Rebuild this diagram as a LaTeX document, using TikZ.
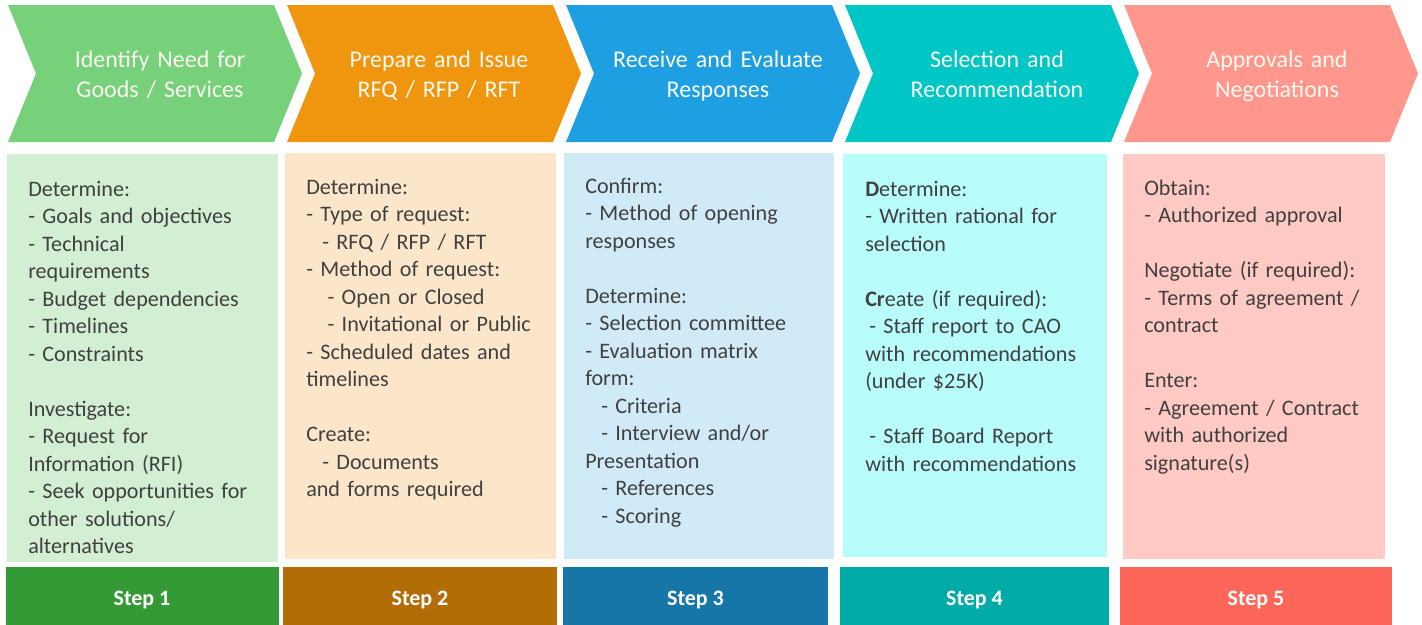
\documentclass[tikz,border=0pt]{standalone}
\usepackage{fontspec}
\setmainfont{Carlito}
\definecolor{chevA}{RGB}{118,209,122}
\definecolor{chevB}{RGB}{240,149,14}
\definecolor{chevC}{RGB}{30,159,225}
\definecolor{chevD}{RGB}{0,198,198}
\definecolor{chevE}{RGB}{255,151,141}
\definecolor{boxA}{RGB}{211,239,211}
\definecolor{boxB}{RGB}{252,230,201}
\definecolor{boxC}{RGB}{209,234,247}
\definecolor{boxD}{RGB}{184,252,252}
\definecolor{boxE}{RGB}{255,201,196}
\definecolor{barA}{RGB}{51,154,53}
\definecolor{barB}{RGB}{179,109,6}
\definecolor{barC}{RGB}{21,118,167}
\definecolor{barD}{RGB}{0,170,167}
\definecolor{barE}{RGB}{255,102,90}
\definecolor{titlewhite}{RGB}{250,250,240}
\definecolor{bodygray}{RGB}{64,64,64}
% chevron with its left edge at x=#1, filled with colour #2
\newcommand{\chevronshape}[2]{%
  \fill[#2] (#1,5) -- ({#1+266},5) -- ({#1+294},73.5) -- ({#1+266},142)
    -- (#1,142) -- ({#1+28},73.5) -- cycle;}
\newcommand{\gap}{\\[20.6pt]}
\newcommand{\ind}[1]{\hspace*{#1pt}}
\begin{document}
\begin{tikzpicture}[x=0.75pt,y=-0.75pt,
  title/.style={text=titlewhite, font=\fontsize{18}{22.5}\selectfont,
    align=center, text width=200pt, anchor=base, inner sep=0pt},
  body/.style={text=bodygray, font=\fontsize{16.6}{20.6}\selectfont,
    align=left, text width=205pt, anchor=base west, inner sep=0pt},
  steplabel/.style={text=white, font=\fontsize{16.5}{20}\selectfont\bfseries,
    anchor=base, inner sep=0pt}]

\useasboundingbox (0,0) rectangle (1422,625);

% header chevrons
\chevronshape{8}{chevA}
\chevronshape{287}{chevB}
\chevronshape{566}{chevC}
\chevronshape{845}{chevD}
\chevronshape{1124}{chevE}

\node[title] (t1) at (160,67) {Identify Need for\\Goods / Services};
\node[title] (t2) at (439,67) {Prepare and Issue\\RFQ / RFP / RFT};
\node[title] (t3) at (718,67) {Receive and Evaluate\\Responses};
\node[title] (t4) at (997,67) {Selection and\\Recommendation};
\node[title] (t5) at (1277,67) {Approvals and\\Negotiations};

% detail panels
\fill[boxA] (7,154) rectangle (278,562);
\fill[boxB] (285,153) rectangle (556,559);
\fill[boxC] (564,153) rectangle (834,559);
\fill[boxD] (843,154) rectangle (1107,557);
\fill[boxE] (1123,154) rectangle (1385,559);

\node[body] (d1) at (28,196.5) {Determine:\\
- Goals and objectives\\
- Technical\\
requirements\\
- Budget dependencies\\
- Timelines\\
- Constraints\gap
Investigate:\\
- Request for\\
Information (RFI)\\
- Seek opportunities for\\
other solutions/\\
alternatives};

\node[body] (d2) at (306,194.5) {Determine:\\
- Type of request:\\
\ind{12}- RFQ / RFP / RFT\\
- Method of request:\\
\ind{16}- Open or Closed\\
\ind{16}- Invitational or Public\\
- Scheduled dates and\\
timelines\gap
Create:\\
\ind{12}- Documents\\
and forms required};

\node[body] (d3) at (585,193.5) {Confirm:\\
- Method of opening\\
responses\gap
Determine:\\
- Selection committee\\
- Evaluation matrix\\
form:\\
\ind{12}- Criteria\\
\ind{12}- Interview and/or\\
Presentation\\
\ind{12}- References\\
\ind{12}- Scoring};

\node[body] (d4) at (865,196.5) {\textbf{D}etermine:\\
- Written rational for\\
selection\gap
\textbf{Cr}eate (if required):\\
\ind{3}- Staff report to CAO\\
with recommendations\\
(under \$25K)\gap
\ind{3}- Staff Board Report\\
with recommendations};

\node[body] (d5) at (1144,195.5) {Obtain:\\
- Authorized approval\gap
Negotiate (if required):\\
- Terms of agreement /\\
contract\gap
Enter:\\
- Agreement / Contract\\
with authorized\\
signature(s)};

% step bars
\fill[barA] (5.5,567) rectangle (279,625);
\fill[barB] (283,567) rectangle (557,625);
\fill[barC] (563,567) rectangle (828,625);
\fill[barD] (840,567) rectangle (1109,625);
\fill[barE] (1120,567) rectangle (1392,625);

\node[steplabel] (s1) at (142,605) {Step 1};
\node[steplabel] (s2) at (420,605) {Step 2};
\node[steplabel] (s3) at (695.5,605) {Step 3};
\node[steplabel] (s4) at (974.5,605) {Step 4};
\node[steplabel] (s5) at (1256,605) {Step 5};
\end{tikzpicture}
\end{document}
